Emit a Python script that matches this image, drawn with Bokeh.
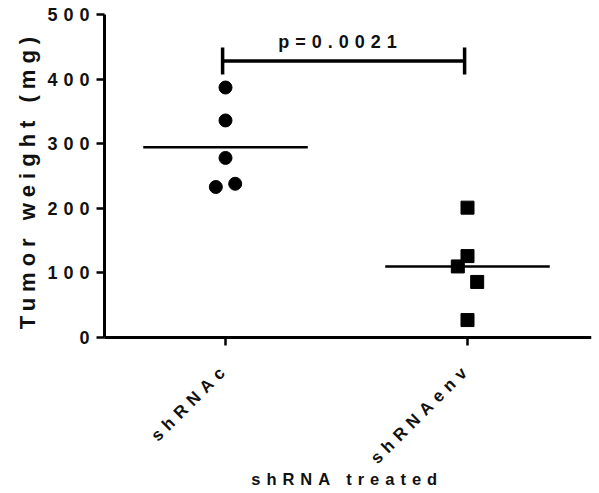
import numpy as np
from bokeh.plotting import figure
from bokeh.models import FixedTicker, Range1d, ColumnDataSource, Label, LabelSet
from bokeh.embed import file_html
from bokeh.resources import INLINE
from bokeh.core.properties import value

# ---- data ----
groups = ["shRNAc", "shRNAenv"]
shRNAc_vals = [387, 336, 278, 233, 238]
shRNAc_jitter = [0.0, 0.0, 0.0, -0.04, 0.04]
shRNAenv_vals = [201, 126, 110, 86, 27]
shRNAenv_jitter = [0.0, 0.0, -0.04, 0.04, 0.0]
y_ticks = [0, 100, 200, 300, 400, 500]
y_tick_labels = ["0", "100", "200", "300", "400", "500"]
p_label = "p=0.0021"
bar_y = 428
bar_tick_lo = 407
bar_tick_hi = 449
x_title = "shRNA treated"
y_title = "Tumor weight (mg)"

FONT = "Liberation Sans"
LS = 6          # letter spacing in px (applied through CSS)
TXT = "#111111"

# approximate advance widths (em) of Liberation Sans Bold, used to place
# left-anchored labels so that their (letter-spaced) end sits where wanted
ADV = {"s": .556, "h": .611, "R": .722, "N": .722, "A": .722, "c": .556,
       "e": .556, "n": .611, "v": .556}
for d in "0123456789":
    ADV[d] = .556


def width(s, size):
    return sum(ADV.get(ch, .6) for ch in s) * size


def extra(s):
    return (len(s) - 1) * LS


# frame covers the canvas; axes are pinned inside it with fixed_location
p = figure(output_backend="svg", toolbar_location=None,
           frame_width=591, frame_height=489,
           min_border_left=0, min_border_right=8, min_border_top=4, min_border_bottom=0,
           x_range=Range1d(-0.9298, 1.5124), y_range=Range1d(-241.5, 515.5),
           x_axis_location="above", y_axis_location="right",
           outline_line_color=None, background_fill_color="white",
           border_fill_color="white")
p.styles = {"letter-spacing": f"{LS}px"}
p.xgrid.visible = False
p.ygrid.visible = False

# points
p.scatter(x=[0 + j for j in shRNAc_jitter], y=shRNAc_vals, marker="circle",
          size=13, color="black")
p.scatter(x=[1 + j for j in shRNAenv_jitter], y=shRNAenv_vals, marker="square",
          size=13, color="black")

# means
hw = 0.34
means = [float(np.mean(shRNAc_vals)), float(np.mean(shRNAenv_vals))]
for i, m in enumerate(means):
    p.line(x=[i - hw, i + hw], y=[m, m], line_color="black", line_width=2.5)

# significance bar
x0, x1 = 0 - 0.012, 1 - 0.012
p.line(x=[x0, x1], y=[bar_y, bar_y], line_color="black", line_width=3.5)
p.segment(x0=[x0, x1], y0=[bar_tick_lo, bar_tick_lo], x1=[x0, x1], y1=[bar_tick_hi, bar_tick_hi],
          line_color="black", line_width=3.5)

p.add_layout(Label(x=(x0 + x1) / 2, y=bar_y, text=p_label, text_align="center",
                   text_baseline="alphabetic", x_offset=-extra(p_label) / 2 - 6, y_offset=19,
                   text_font=FONT, text_font_style="bold", text_font_size="18px",
                   text_color=TXT))

# axes: lines and ticks from Bokeh, pinned at x=-0.5 / y=0
X0 = -0.5
p.xaxis.ticker = FixedTicker(ticks=list(range(len(groups))))
p.xaxis.major_label_overrides = {i: "" for i in range(len(groups))}
p.xaxis.fixed_location = 0
p.xaxis.bounds = (X0, 1.5124)
p.yaxis.ticker = FixedTicker(ticks=y_ticks)
p.yaxis.major_label_overrides = {t: "" for t in y_ticks}
p.yaxis.fixed_location = X0
p.yaxis.bounds = (0, 500)
for ax in (p.xaxis[0], p.yaxis[0]):
    ax.axis_line_width = 3
    ax.axis_line_color = "black"
    ax.major_tick_line_width = 2.5
    ax.major_tick_line_color = "black"
    ax.major_tick_out = 0
    ax.major_tick_in = 8
    ax.minor_tick_line_color = None
    ax.major_label_standoff = 0

# y tick labels (left anchored; visible right edge 15px left of the axis)
YT = 18
ysrc = ColumnDataSource(dict(
    x=[X0] * len(y_ticks), y=y_ticks, text=y_tick_labels,
    xo=[-15 - width(t, YT) - extra(t) for t in y_tick_labels]))
p.add_layout(LabelSet(source=ysrc, x="x", y="y", text="text", x_offset="xo",
                      text_align="left", text_baseline="middle",
                      text_font=value(FONT), text_font_style="bold",
                      text_font_size=f"{YT}px", text_color=TXT))

# x tick labels (45 degrees, left anchored so that the end sits under the tick)
XT = 17
c45 = np.cos(np.pi / 4)
xsrc = ColumnDataSource(dict(
    x=list(range(len(groups))), y=[0] * len(groups), text=groups,
    xo=[-3.5 - (width(g, XT) + extra(g)) * c45 for g in groups],
    yo=[-33 - (width(g, XT) + extra(g)) * c45 for g in groups]))
p.add_layout(LabelSet(source=xsrc, x="x", y="y", text="text", x_offset="xo", y_offset="yo",
                      angle=np.pi / 4, text_align="left", text_baseline="middle",
                      text_font=value(FONT), text_font_style="bold",
                      text_font_size=f"{XT}px", text_color=TXT))

# axis titles
p.add_layout(Label(x=0.5, y=0, text=x_title, text_align="center", text_baseline="alphabetic",
                   x_offset=-extra(x_title) / 2 - 2, y_offset=-142,
                   text_font=FONT, text_font_style="bold", text_font_size="16.5px",
                   text_color=TXT))
p.add_layout(Label(x=X0, y=250, text=y_title, angle=np.pi / 2, text_align="center",
                   text_baseline="alphabetic", x_offset=-77, y_offset=-extra(y_title) / 2 - 7,
                   text_font=FONT, text_font_style="bold", text_font_size="22px",
                   text_color=TXT))

open("out.html", "w").write(file_html(p, INLINE))
